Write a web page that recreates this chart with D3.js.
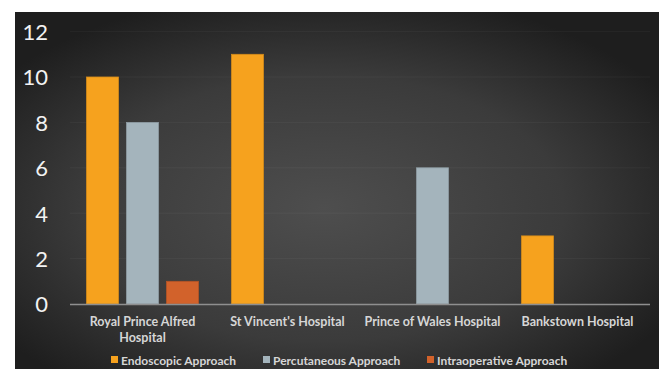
<!DOCTYPE html>
<html><head><meta charset="utf-8">
<script src="https://cdn.jsdelivr.net/npm/d3@7"></script>
<style>
html,body{margin:0;padding:0;background:#fff;}
svg{display:block;}
</style></head>
<body>
<script>
const categories = [["Royal Prince Alfred","Hospital"],["St Vincent's Hospital"],["Prince of Wales Hospital"],["Bankstown Hospital"]];
const seriesNames = ["Endoscopic Approach","Percutaneous Approach","Intraoperative Approach"];
const endoscopic = [10, 11, 0, 3];
const percutaneous = [8, 0, 6, 0];
const intraoperative = [1, 0, 0, 0];
const yTicks = [0, 2, 4, 6, 8, 10, 12];
const colors = ["#F6A21E", "#A4B4BC", "#D2622B"];

const W = 659, H = 369;
const svg = d3.select("body").append("svg").attr("width", W).attr("height", H);
const defs = svg.append("defs");
const rg = defs.append("radialGradient").attr("id","bg").attr("cx","48%").attr("cy","55%").attr("r","62%");
rg.append("stop").attr("offset","0%").attr("stop-color","#4e4e4e");
rg.append("stop").attr("offset","60%").attr("stop-color","#3b3b3b");
rg.append("stop").attr("offset","100%").attr("stop-color","#1e1e1e");

svg.append("rect").attr("x",15).attr("y",12).attr("width",644).attr("height",357).attr("fill","url(#bg)");

const left = 70, right = 650, y0 = 304, yTop = 31.6;
const y = d3.scaleLinear().domain([0, 12]).range([y0, yTop]);
const idx = d3.range(categories.length);
const x0 = d3.scaleBand().domain(idx).range([left, right]).paddingInner(33/145).paddingOuter(33/290);
const x1 = d3.scaleBand().domain(d3.range(3)).range([0, x0.bandwidth()]).paddingInner(0.2).paddingOuter(0);

// gridlines
svg.append("g").selectAll("line").data(yTicks.filter(d=>d>0)).join("line")
  .attr("x1", left).attr("x2", right)
  .attr("y1", d=>y(d)).attr("y2", d=>y(d))
  .attr("stroke","rgba(255,255,255,0.045)").attr("stroke-width",1);

// y axis
const yAxis = svg.append("g").attr("transform", `translate(48,0)`)
  .call(d3.axisLeft(y).tickValues(yTicks).tickSize(0).tickPadding(0));
yAxis.select(".domain").remove();
yAxis.selectAll("text").attr("fill","#f2f2f2").attr("font-family","Lato, 'Open Sans', sans-serif")
  .attr("font-size",22).attr("dy","0.36em");

const values = [endoscopic, percutaneous, intraoperative];
const g = svg.append("g");
idx.forEach(i => {
  values.forEach((arr, s) => {
    const v = arr[i];
    if (v <= 0) return;
    g.append("rect")
      .attr("x", x0(i) + x1(s))
      .attr("y", y(v))
      .attr("width", x1.bandwidth())
      .attr("height", y0 - y(v))
      .attr("fill", colors[s])
      .attr("stroke", d3.color(colors[s]).darker(0.4))
      .attr("stroke-width", 0.8);
  });
});

// baseline
svg.append("line").attr("x1", left).attr("x2", right).attr("y1", y0+0.5).attr("y2", y0+0.5)
  .attr("stroke","#8f8f8f").attr("stroke-width",1.5);

// category labels
const xl = svg.append("g");
categories.forEach((lines, i) => {
  const t = xl.append("text").attr("x", x0(i) + x0.bandwidth()/2).attr("y", 326)
    .attr("text-anchor","middle").attr("fill","#d6d6d6")
    .attr("font-family","Lato, 'Open Sans', sans-serif").attr("font-size",12.5).attr("font-weight","bold");
  lines.forEach((l, k) => t.append("tspan").attr("x", x0(i) + x0.bandwidth()/2).attr("dy", k ? 15.5 : 0).text(l));
});

// legend
const legX = [111, 263, 427];
const lg = svg.append("g");
seriesNames.forEach((n, s) => {
  lg.append("rect").attr("x", legX[s]).attr("y", 356).attr("width", 7).attr("height", 7).attr("fill", colors[s]);
  lg.append("text").attr("x", legX[s] + 10).attr("y", 364.5).text(n)
    .attr("fill","#d6d6d6").attr("font-family","Lato, 'Open Sans', sans-serif").attr("font-size",12).attr("font-weight","bold");
});
</script>
</body></html>
